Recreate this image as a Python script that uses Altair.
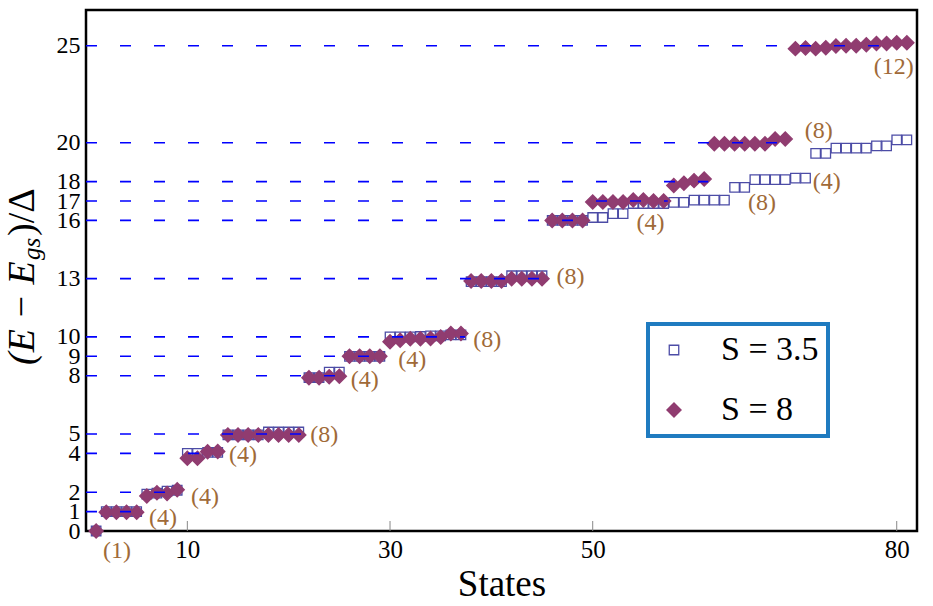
import altair as alt
import pandas as pd

# ---------------- data ----------------
states = list(range(1, 82))

e_s8 = [0.0,
        0.97, 0.97, 0.97, 0.97,
        1.8, 1.97, 1.93, 2.12,
        3.75, 3.75, 4.08, 4.1,
        4.95, 4.95, 4.95, 4.95, 4.95, 4.95, 4.95, 4.95,
        7.9, 7.9, 7.95, 7.97,
        9.0, 9.0, 9.0, 9.0,
        9.75, 9.83, 9.9, 9.9, 9.92, 10.0, 10.17, 10.17,
        12.88, 12.88, 12.88, 12.88, 13.0, 13.0, 13.0, 13.0,
        16.0, 16.0, 16.0, 16.0,
        16.95, 16.95, 16.95, 16.95, 17.05, 17.05, 17.0, 17.0,
        17.8, 17.92, 18.05, 18.13,
        19.95, 19.95, 19.95, 19.95, 19.95, 19.95, 20.2, 20.2,
        24.85, 24.88, 24.85, 24.9, 24.98, 25.0, 25.0, 25.05, 25.12, 25.12, 25.15, 25.15]

e_s35 = [0.0,
         1.0, 1.0, 1.0, 1.0,
         1.9, 1.95, 2.05, 2.1,
         4.0, 4.0, 4.05, 4.05,
         4.95, 4.95, 4.95, 4.95, 5.1, 5.1, 5.1, 5.1,
         7.9, 7.9, 8.18, 8.18,
         9.0, 9.0, 9.0, 9.0,
         10.0, 10.0, 10.0, 10.02, 10.05, 10.05, 10.1, 10.1,
         12.85, 12.85, 12.85, 12.85, 13.15, 13.15, 13.15, 13.15,
         16.0, 16.0, 16.0, 16.0,
         16.15, 16.15, 16.35, 16.35,
         16.87, 16.87, 16.87, 16.87,
         16.93, 16.93,
         17.05, 17.05, 17.05, 17.05,
         17.7, 17.7,
         18.1, 18.1, 18.1, 18.1,
         18.18, 18.18,
         19.45, 19.45,
         19.72, 19.72, 19.72, 19.72,
         19.84, 19.84,
         20.15, 20.15]

series_names = ["S = 3.5", "S = 8"]

levels = [1, 2, 4, 5, 8, 9, 10, 13, 16, 17, 18, 20, 25]
level_ends = [5.4, 9.4, 13.4, 21.4, 25.4, 29.4, 37.4, 45.4, 49.4, 57.4, 61.4, 69.4, 80.0]

deg_labels = ["(1)", "(4)", "(4)", "(4)", "(8)", "(4)", "(4)", "(8)", "(8)", "(4)", "(8)", "(4)", "(8)", "(12)"]
deg_x = [3.06, 7.6, 11.75, 15.5, 23.5, 27.5, 32.2, 39.6, 47.8, 55.7, 66.7, 73.1, 72.3, 79.7]
deg_y = [-1.03, 0.67, 1.75, 3.9, 4.95, 7.78, 8.8, 9.85, 13.08, 15.87, 16.9, 17.98, 20.6, 23.9]

x_ticks = [10, 30, 50, 80]
y_ticks = [0, 1, 2, 4, 5, 8, 9, 10, 13, 16, 17, 18, 20, 25]

# ---------------- tables ----------------
pts = pd.DataFrame({
    "state": states + states,
    "E": e_s35 + e_s8,
    "series": [series_names[0]] * len(states) + [series_names[1]] * len(states),
})
lv = pd.DataFrame({"level": levels, "x0": [0] * len(levels), "x1": level_ends})
ann = pd.DataFrame({"label": deg_labels, "x": deg_x, "y": deg_y})
tk = pd.DataFrame({"t": x_ticks})

W, H = 831, 521
XD = [0, 82]
YD = [0, 26.84]
SERIF = "Liberation Serif"

xs = alt.Scale(domain=XD, nice=False, zero=False)
ys = alt.Scale(domain=YD, nice=False, zero=False)

leg = alt.Legend(title=None, orient="none", legendX=562, legendY=314,
                 strokeColor="#1f7bc0", padding=9, rowPadding=26,
                 labelFont=SERIF, labelFontSize=34, labelColor="black",
                 labelOffset=30, symbolStrokeWidth=1.3)

points = alt.Chart(pts).mark_point(strokeWidth=1.3, opacity=1).encode(
    x=alt.X("state:Q", scale=xs,
            axis=alt.Axis(values=x_ticks, title="States", grid=False, domain=False,
                          tickSize=0, labelFont=SERIF, labelFontSize=25, labelColor="black",
                          labelPadding=6, titleFont=SERIF, titleFontSize=37,
                          titleFontWeight="normal", titleColor="black", titlePadding=4)),
    y=alt.Y("E:Q", scale=ys,
            axis=alt.Axis(values=y_ticks, title=None, grid=False, domain=False,
                          tickSize=0, labelFont=SERIF, labelFontSize=24, labelColor="black",
                          labelPadding=6, labelOverlap=False, labelFlush=False, labelBound=False)),
    shape=alt.Shape("series:N", scale=alt.Scale(domain=series_names, range=["square", "diamond"]), legend=leg),
    fill=alt.Fill("series:N", scale=alt.Scale(domain=series_names, range=["white", "#903c70"]), legend=leg),
    stroke=alt.Stroke("series:N", scale=alt.Scale(domain=series_names, range=["#4c4ca6", "#903c70"]), legend=leg),
    size=alt.Size("series:N", scale=alt.Scale(domain=series_names, range=[90, 200]), legend=leg),
    order=alt.Order("series:N"),
)

dashes = alt.Chart(lv).mark_rule(color="#0000ff", strokeWidth=1.6, strokeDash=[11, 23]).encode(
    x=alt.X("x0:Q", scale=xs), x2="x1:Q", y=alt.Y("level:Q", scale=ys)
)

ticks = alt.Chart(tk).mark_rule(color="#888888", strokeWidth=1).encode(
    x=alt.X("t:Q", scale=xs), y=alt.value(H), y2=alt.value(H - 10)
)

labels = alt.Chart(ann).mark_text(font=SERIF, fontSize=24, color="#a06a38",
                                  align="center", baseline="middle").encode(
    x=alt.X("x:Q", scale=xs), y=alt.Y("y:Q", scale=ys), text="label:N"
)

t1 = alt.Chart(pd.DataFrame({"t": ["(E − E"]})).mark_text(
    font=SERIF, fontSize=38, fontStyle="italic", angle=270, align="left",
    baseline="alphabetic", color="black").encode(text="t:N", x=alt.value(-52), y=alt.value(355))
t2 = alt.Chart(pd.DataFrame({"t": ["gs"]})).mark_text(
    font=SERIF, fontSize=25, fontStyle="italic", angle=270, align="left",
    baseline="alphabetic", color="black").encode(text="t:N", x=alt.value(-46), y=alt.value(250))
t3 = alt.Chart(pd.DataFrame({"t": [")/Δ"]})).mark_text(
    font=SERIF, fontSize=38, angle=270, align="left",
    baseline="alphabetic", color="black").encode(text="t:N", x=alt.value(-52), y=alt.value(226))

chart = alt.layer(points, dashes, ticks, labels, t1, t2, t3).properties(
    width=W, height=H,
    autosize="none",
    padding={"left": 86, "top": 10, "right": 16, "bottom": 75},
).configure_view(stroke="black", strokeWidth=2.5).configure_legend(strokeWidth=4)

chart.save("out.html", embed_options={"renderer": "svg", "actions": False})
